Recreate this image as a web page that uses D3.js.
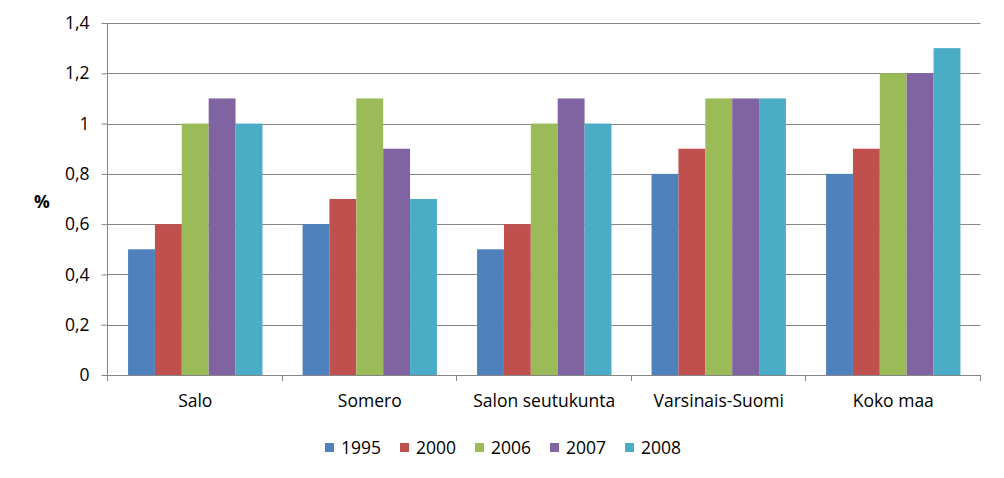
<!DOCTYPE html>
<html><head><meta charset="utf-8">
<script src="https://cdn.jsdelivr.net/npm/d3@7"></script>
<style>body{margin:0;background:#fff}svg{display:block}text{font-family:"Open Sans","Liberation Sans",Arial,sans-serif;fill:#000}</style>
</head><body><svg id="c" width="1004" height="478"></svg>
<script>
const categories = ["Salo","Somero","Salon seutukunta","Varsinais-Suomi","Koko maa"];
const seriesNames = ["1995","2000","2006","2007","2008"];
const s1995 = [0.5,0.6,0.5,0.8,0.8];
const s2000 = [0.6,0.7,0.6,0.9,0.9];
const s2006 = [1.0,1.1,1.0,1.1,1.2];
const s2007 = [1.1,0.9,1.1,1.1,1.2];
const s2008 = [1.0,0.7,1.0,1.1,1.3];
const yTicks = [0,0.2,0.4,0.6,0.8,1,1.2,1.4];
const colors = ["#4F81BD","#C0504D","#9BBB59","#8064A2","#4BACC6"];
const seriesVals = [s1995,s2000,s2006,s2007,s2008];

const FONT = "Open Sans, Liberation Sans, Arial, sans-serif";
const FS = 17.5;
const svg = d3.select("#c");
const L=108, R=980.5, T=23, B=375;
const x0 = d3.scaleBand().domain(categories).range([L,R]).paddingInner(0).paddingOuter(0);
const x1 = d3.scaleBand().domain(seriesNames).range([0,x0.bandwidth()]).paddingOuter(0.7466).paddingInner(0);
const y = d3.scaleLinear().domain([0,1.4]).range([B,T]);
const fmt = d => d3.format("")(d).replace(".",",");

// gridlines
svg.append("g").selectAll("line").data(yTicks.filter(d=>d>0)).join("line")
 .attr("x1",L).attr("x2",R).attr("y1",d=>Math.round(y(d))+0.5).attr("y2",d=>Math.round(y(d))+0.5)
 .attr("stroke","#868686").attr("stroke-width",1);

// bars
const g = svg.append("g");
categories.forEach((c,ci)=>{
  seriesNames.forEach((s,si)=>{
    const v = seriesVals[si][ci];
    g.append("rect").attr("x",x0(c)+x1(s)).attr("width",x1.bandwidth())
     .attr("y",y(v)).attr("height",B-y(v)).attr("fill",colors[si]);
  });
});

// y axis
const ya = svg.append("g").attr("transform",`translate(${L-0.5},0)`)
 .call(d3.axisLeft(y).tickValues(yTicks).tickFormat(fmt).tickSize(6).tickPadding(12));
ya.select(".domain").attr("stroke","#868686").attr("d",`M0,${T}V${B}`);
ya.selectAll(".tick line").attr("stroke","#868686");
ya.selectAll(".tick text").attr("font-size",FS).attr("font-family",FONT).attr("fill","#000");

// x axis
const xa = svg.append("g").attr("transform",`translate(0,${B+0.5})`)
 .call(d3.axisBottom(x0).tickSize(0).tickPadding(19));
xa.select(".domain").attr("stroke","#868686").attr("d",`M${L},0H${R}`);
xa.selectAll(".tick text").attr("font-size",FS).attr("font-family",FONT).attr("fill","#000");
svg.append("g").selectAll("line").data(d3.range(categories.length+1)).join("line")
 .attr("x1",i=>Math.round(L+i*x0.step())-0.5).attr("x2",i=>Math.round(L+i*x0.step())-0.5)
 .attr("y1",B).attr("y2",B+6).attr("stroke","#868686");

// y label
svg.append("text").attr("x",42).attr("y",208).attr("text-anchor","middle").attr("font-size",FS).attr("font-weight","bold").text("%");

// legend
const lg = svg.append("g");
seriesNames.forEach((s,i)=>{
  const lx = 325 + i*75;
  lg.append("rect").attr("x",lx).attr("y",443).attr("width",9).attr("height",9).attr("fill",colors[i]);
  lg.append("text").attr("x",lx+16).attr("y",453.5).attr("font-size",FS).text(s);
});
</script></body></html>
